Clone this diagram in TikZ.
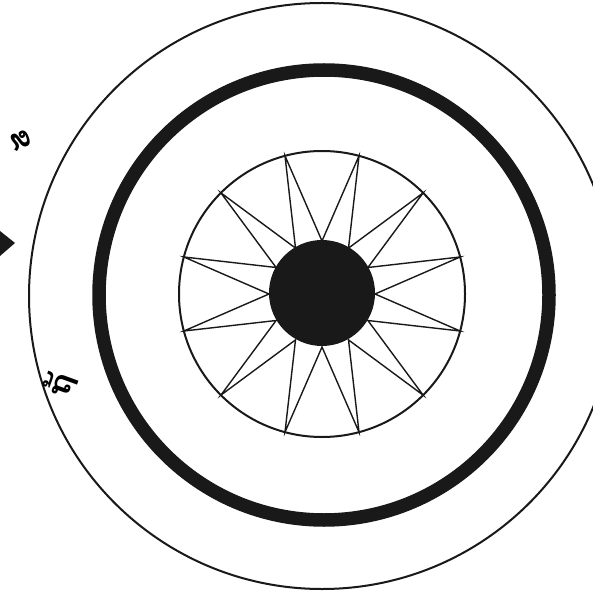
\documentclass[tikz,border=0pt]{standalone}
\usepackage{fontspec}
\newfontfamily\laofont[Script=Lao]{Dhyana}
\begin{document}
\begin{tikzpicture}[x=1pt,y=-1pt,
  thinring/.style={draw=black!90,line width=2pt},
  thickring/.style={draw=black!90,line width=13.5pt},
  starline/.style={draw=black!90,line width=1.4pt,line join=miter},
  lbl/.style={inner sep=0pt,font=\laofont\bfseries\fontsize{30}{30}\selectfont}]
\useasboundingbox (0,0) rectangle (593,593);
\clip (0,0) rectangle (593,593);
\fill[white] (0,0) rectangle (593,593);
% outer thin circle
\node[circle,minimum size=586pt,inner sep=0pt,thinring] (outer) at (322,296) {};
% thick ring
\node[circle,minimum size=450pt,inner sep=0pt,thickring] (thick) at (324,295) {};
% inner circle
\node[circle,minimum size=286pt,inner sep=0pt,thinring] (inner) at (322,294) {};
% 12-pointed star
\begin{scope}[shift={(322,294)}]
\draw[starline]
  (0:53) -- (15:143) -- (30:53) -- (45:143) -- (60:53) -- (75:143) --
  (90:53) -- (105:143) -- (120:53) -- (135:143) -- (150:53) -- (165:143) --
  (180:53) -- (195:143) -- (210:53) -- (225:143) -- (240:53) -- (255:143) --
  (270:53) -- (285:143) -- (300:53) -- (315:143) -- (330:53) -- (345:143) -- cycle;
\end{scope}
% central disc
\node[circle,minimum size=106pt,inner sep=0pt,fill=black!90] (hub) at (322,293) {};
% left-edge fragments
\node[lbl,rotate=-70,anchor=center] (frag) at (20,140) {ຂ};
\fill[black!90] (0,231) -- (15,243) -- (0,256) -- cycle;
\coordinate (tip) at (15,243);
\node[lbl,rotate=70,anchor=center] (word) at (60,385) {ຖ້};
\end{tikzpicture}
\end{document}
